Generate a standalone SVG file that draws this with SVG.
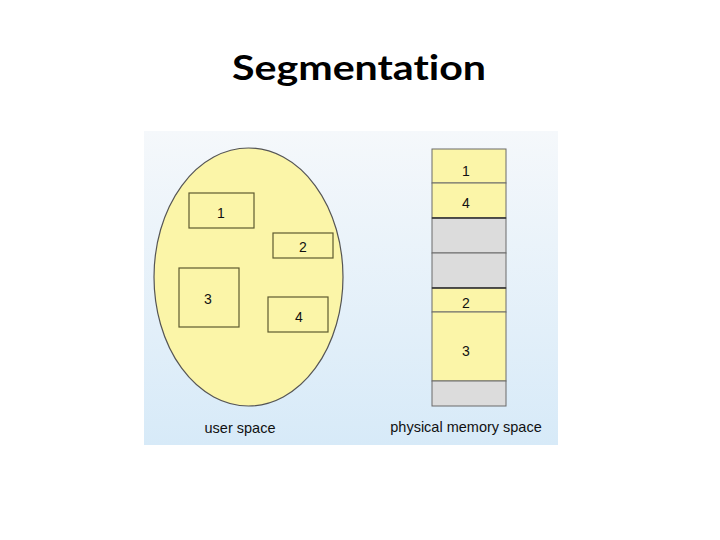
<svg xmlns="http://www.w3.org/2000/svg" width="720" height="540" viewBox="0 0 720 540">
<defs>
<linearGradient id="bg" x1="0" y1="0" x2="0" y2="1">
<stop offset="0" stop-color="#f5f8fb"/>
<stop offset="1" stop-color="#d7eaf8"/>
</linearGradient>
<style>
.seg{fill:#fbf5a8;stroke:#5e5a30;stroke-width:1.2}
.mem{fill:#fbf5a8;stroke:#6a6a6a;stroke-width:1}
.free{fill:#dcdcdc;stroke:#6a6a6a;stroke-width:1}
.num{font-family:"Liberation Sans",Arial,sans-serif;font-size:14px;fill:#111;text-anchor:middle}
.cap{font-family:"Liberation Sans",Arial,sans-serif;font-size:14.5px;fill:#111;text-anchor:middle}
.div{stroke:#333;stroke-width:1.5}
.title{font-family:Lato,"Liberation Sans",sans-serif;font-weight:bold;font-size:35px;fill:#000;text-anchor:middle;font-variant-ligatures:none;font-feature-settings:"liga" 0,"clig" 0,"dlig" 0}
</style>
</defs>
<rect x="0" y="0" width="720" height="540" fill="#ffffff"/>
<text class="title" x="359" y="80" textLength="254" lengthAdjust="spacingAndGlyphs">Segmentation</text>
<rect x="144" y="131" width="414" height="314" fill="url(#bg)"/>

<g id="user-space">
<ellipse cx="248.5" cy="277" rx="94.5" ry="129" fill="#fbf5a8" stroke="#555" stroke-width="1.2"/>
<text class="cap" x="240" y="433">user space</text>
</g>
<g id="seg1"><rect class="seg" x="189" y="193" width="65" height="35"/><text class="num" x="221" y="218">1</text></g>
<g id="seg2"><rect class="seg" x="273" y="233" width="60" height="25"/><text class="num" x="303" y="252">2</text></g>
<g id="seg3"><rect class="seg" x="179" y="268" width="60" height="59"/><text class="num" x="208" y="304">3</text></g>
<g id="seg4"><rect class="seg" x="268" y="297" width="60" height="35"/><text class="num" x="299" y="322">4</text></g>

<g id="physical-memory">
<g id="mem1"><rect class="mem" x="432" y="149" width="74" height="34"/><text class="num" x="466" y="176">1</text></g>
<g id="mem4"><rect class="mem" x="432" y="183" width="74" height="35"/><text class="num" x="466" y="208">4</text></g>
<g id="free1"><rect class="free" x="432" y="218" width="74" height="35"/></g>
<g id="free2"><rect class="free" x="432" y="253" width="74" height="35"/></g>
<g id="mem2"><rect class="mem" x="432" y="288" width="74" height="24"/><text class="num" x="466" y="308">2</text></g>
<g id="mem3"><rect class="mem" x="432" y="312" width="74" height="69"/><text class="num" x="466" y="356">3</text></g>
<g id="free3"><rect class="free" x="432" y="381" width="74" height="25"/></g>
<line class="div" x1="432" y1="218" x2="506" y2="218"/>
<line class="div" x1="432" y1="288" x2="506" y2="288"/>
<text class="cap" x="466" y="432">physical memory space</text>
</g>
<g id="connectors"></g>
</svg>
